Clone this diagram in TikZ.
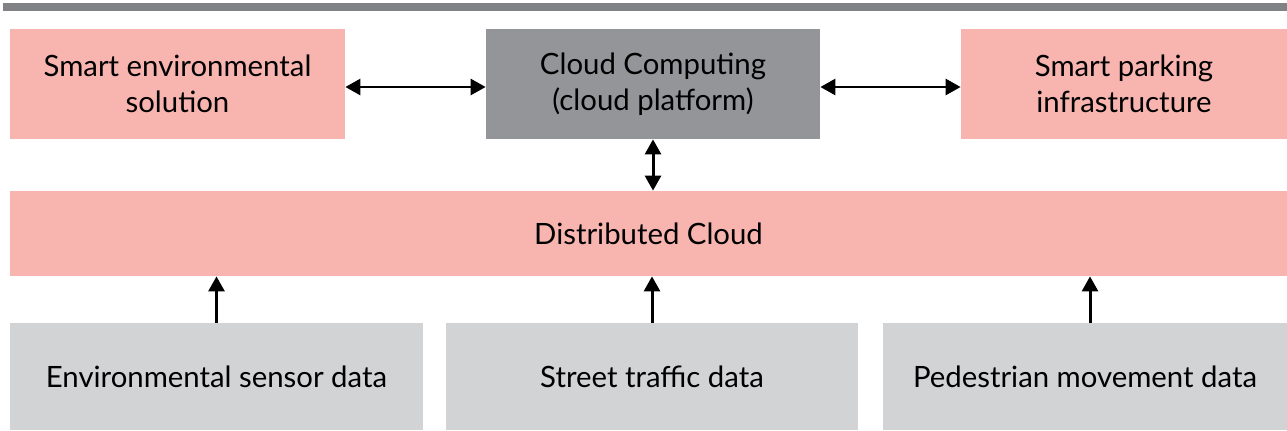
\documentclass[tikz,border=0pt]{standalone}
\usepackage{fontspec}
\setmainfont{Lato}
\usetikzlibrary{arrows.meta}
\definecolor{boxpink}{HTML}{F8B5B0}
\definecolor{boxdark}{HTML}{939598}
\definecolor{boxlight}{HTML}{D1D3D4}
\definecolor{rulegray}{HTML}{808285}
\tikzset{
  >={Triangle[length=8.5pt,width=9pt]},
  box/.style={rectangle, inner sep=0pt, align=center, font=\fontsize{16.7}{20.5}\selectfont},
  pinkbox/.style={box, fill=boxpink},
  darkbox/.style={box, fill=boxdark},
  greybox/.style={box, fill=boxlight},
  link/.style={<->, line width=1.7pt},
  feed/.style={->, line width=1.7pt}
}
\begin{document}
\begin{tikzpicture}[x=0.02cm, y=-0.02cm]
  \useasboundingbox (0,0) rectangle (1287,430);
  % \draw[help lines, step=100] (0,0) grid (1287,430);
  \draw[rulegray, line width=4pt] (3,7) -- (1287,7);

  \node at (177.5, 84) [pinkbox, minimum width=335*0.02cm, minimum height=110*0.02cm]
  (env) {Smart environmental\\solution};
  \node at (653, 84) [darkbox, minimum width=334*0.02cm, minimum height=110*0.02cm]
  (cloud) {Cloud Computing\\(cloud platform)};
  \node at (1124, 84) [pinkbox, minimum width=326*0.02cm, minimum height=110*0.02cm]
  (park) {Smart parking\\infrastructure};
  \node at (648.5, 233.5) [pinkbox, minimum width=1277*0.02cm, minimum height=85*0.02cm]
  (dist) {Distributed Cloud};
  \node at (216.5, 376.5) [greybox, minimum width=413*0.02cm, minimum height=107*0.02cm]
  (sensor) {Environmental sensor data};
  \node at (652, 376.5) [greybox, minimum width=412*0.02cm, minimum height=107*0.02cm]
  (street) {Street traffic data};
  \node at (1085, 376.5) [greybox, minimum width=404*0.02cm, minimum height=107*0.02cm]
  (walk) {Pedestrian movement data};

  \draw[link] ([yshift=-3*0.02cm]env.east) -- ([yshift=-3*0.02cm]cloud.west);
  \draw[link] ([yshift=-3*0.02cm]cloud.east) -- ([yshift=-3*0.02cm]park.west);
  \draw[link] (cloud.south) -- (cloud.south |- dist.north);
  \draw[feed] (sensor.north) -- (sensor.north |- dist.south);
  \draw[feed] (street.north) -- (street.north |- dist.south);
  \draw[feed] ([xshift=5*0.02cm]walk.north) -- ([xshift=5*0.02cm]walk.north |- dist.south);
\end{tikzpicture}
\end{document}
